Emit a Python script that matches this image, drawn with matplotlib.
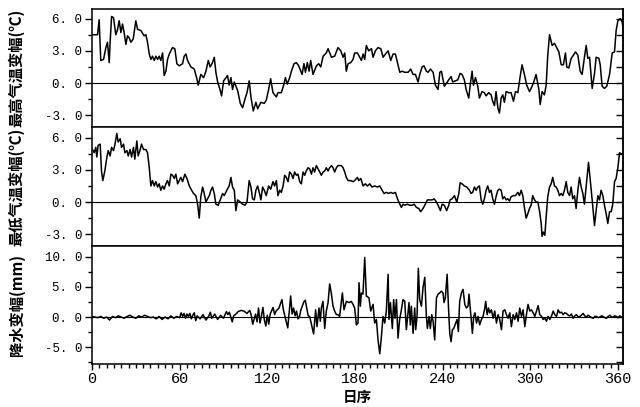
import matplotlib
matplotlib.use("Agg")
import matplotlib.pyplot as plt
import numpy as np
from matplotlib.ticker import MultipleLocator

# (day, value) pairs, one list per panel
TMAX = [
    (0.3, 4.5), (3.8, 4.5), (4.9, 5.9), (6.0, 2.1), (7.9, 2.2), (9.5, 3.3), (10.6, 3.8), (11.8, 1.9),
    (12.4, 3.8), (13.4, 6.2), (14.7, 6.1), (16.3, 4.5), (17.5, 5.0), (18.6, 5.8), (19.8, 4.7), (20.9, 5.5),
    (22.0, 4.7), (23.2, 3.6), (24.3, 4.4), (25.5, 4.2), (26.6, 3.8), (28.2, 4.1), (30.0, 5.8), (31.2, 5.0),
    (33.4, 4.9), (35.7, 4.4), (36.9, 4.5), (38.0, 3.8), (39.2, 2.7), (40.3, 2.2), (41.4, 2.5), (42.6, 2.1),
    (43.7, 2.5), (44.9, 2.2), (46.0, 2.5), (47.1, 2.1), (48.3, 2.8), (49.4, 0.7), (50.6, 1.1), (51.7, 2.2),
    (52.9, 2.7), (55.1, 3.3), (56.7, 3.2), (58.1, 1.8), (59.7, 1.6), (62.0, 1.8), (63.1, 2.5), (64.3, 2.7),
    (65.4, 2.1), (67.7, 1.5), (70.0, 1.3), (71.8, 0.4), (72.7, -0.2), (74.5, 0.8), (76.4, 0.5), (78.0, 1.1),
    (79.6, 2.1), (80.9, 1.5), (82.5, 1.9), (83.7, 2.4), (84.8, 1.0), (86.0, 0.1), (87.6, -0.6), (88.7, -1.2),
    (90.1, 0.2), (91.7, 0.5), (92.8, 0.7), (93.9, -0.2), (95.1, 0.5), (96.2, -0.6), (97.4, 0.1), (99.7, -0.7),
    (101.5, -1.9), (103.1, -2.3), (104.7, -1.5), (106.1, -0.9), (107.6, 0.2), (108.8, -1.3), (110.4, -2.6),
    (112.2, -1.8), (113.4, -2.4), (115.6, -1.8), (117.9, -1.9), (119.3, -1.6), (120.9, -0.6), (122.3, 0.4),
    (123.9, -0.9), (126.2, -1.3), (127.3, -0.9), (129.6, -0.9), (131.2, -0.2), (132.4, 0.5), (133.7, -0.1),
    (135.3, 0.5), (136.5, 1.1), (138.3, 1.8), (139.9, 1.9), (141.5, 1.6), (142.9, 1.1), (143.8, 0.8),
    (145.1, 1.8), (146.1, 1.0), (147.4, 1.9), (148.6, 1.1), (149.7, 2.1), (151.3, 0.8), (153.6, 1.6),
    (155.2, 1.8), (156.6, 1.5), (158.2, 2.5), (160.4, 2.8), (161.6, 3.2), (163.9, 2.4), (166.1, 2.5),
    (168.4, 3.3), (170.3, 3.0), (171.9, 2.4), (173.0, 2.8), (174.1, 1.1), (175.3, 1.8), (177.1, 1.9),
    (178.7, 2.2), (179.8, 2.8), (181.7, 2.8), (183.3, 2.4), (184.4, 2.1), (185.6, 2.7), (186.7, 2.2),
    (187.8, 3.5), (189.4, 3.0), (191.3, 3.2), (192.4, 2.4), (194.0, 3.0), (195.8, 3.3), (197.7, 3.2),
    (199.3, 2.4), (200.9, 2.7), (202.7, 3.0), (204.5, 2.1), (206.1, 2.7), (207.7, 2.7), (209.1, 1.9),
    (210.7, 1.0), (212.3, 1.1), (214.1, 1.0), (216.4, 1.0), (218.2, 1.3), (219.8, 0.8), (221.4, 0.8),
    (223.2, 0.1), (224.4, 0.8), (226.0, 1.5), (227.3, 1.6), (228.9, 1.1), (230.1, 1.0), (231.7, 1.3),
    (233.5, 1.0), (235.1, -0.2), (236.9, -0.6), (238.1, 1.0), (239.2, 1.1), (241.2, -0.3), (242.8, 0.0),
    (244.2, 0.3), (245.8, 0.6), (246.9, 0.1), (248.8, 0.2), (250.4, 0.3), (252.0, 0.9), (253.3, 0.8),
    (254.9, 0.3), (256.1, -0.6), (257.9, -1.4), (258.8, -0.3), (260.2, 1.1), (261.1, -0.2), (262.5, 0.5),
    (264.1, -0.3), (265.2, -1.4), (267.0, -0.8), (268.6, -0.9), (269.8, -1.2), (271.6, -0.9), (273.2, -1.1),
    (274.3, -1.7), (275.5, -2.1), (276.6, -0.8), (277.8, -2.3), (278.9, -2.8), (280.1, -1.4), (281.2, -1.1),
    (282.3, -1.8), (283.5, -0.8), (285.3, -0.9), (286.9, -0.9), (288.5, -1.7), (289.9, -0.8), (291.5, -0.9),
    (293.1, 0.6), (294.4, 1.7), (296.0, 0.8), (297.6, -0.2), (299.5, -0.8), (300.6, -0.5), (302.2, 0.0),
    (304.0, 0.8), (305.9, -0.6), (306.8, -2.0), (308.1, -0.8), (309.7, -1.1), (310.9, -0.2), (312.0, 2.6),
    (313.2, 4.5), (315.0, 3.5), (316.6, 3.7), (317.7, 3.4), (319.6, 2.9), (321.2, 1.7), (322.7, 1.7),
    (324.1, 2.8), (325.0, 1.5), (326.4, 1.4), (328.0, 2.3), (329.6, 2.6), (331.0, 2.9), (332.6, 2.6),
    (334.2, 1.1), (335.5, 0.8), (337.1, 2.4), (338.3, 3.5), (339.4, 2.3), (340.6, 2.4), (342.4, -0.5),
    (344.0, 0.9), (345.1, 2.4), (347.0, 2.3), (347.9, 1.7), (349.2, -0.3), (350.8, -0.5), (352.4, -0.3),
    (354.3, 0.8), (356.1, 2.8), (357.7, 2.9), (358.8, 4.9), (360.0, 5.8), (361.6, 6.0), (362.9, 5.7),
    (363.8, 4.9),
]

TMIN = [
    (0.3, 4.9), (1.5, 4.6), (2.6, 5.1), (3.3, 4.2), (4.2, 5.3), (5.6, 5.4), (6.5, 2.9), (7.4, 2.0),
    (8.8, 2.9), (10.2, 4.2), (11.1, 4.8), (12.4, 4.3), (13.4, 5.1), (14.7, 4.8), (15.6, 5.3), (17.0, 6.4),
    (17.9, 5.6), (19.3, 5.9), (20.2, 5.1), (21.6, 5.4), (22.5, 4.6), (23.9, 4.8), (24.8, 4.3), (26.1, 4.9),
    (27.1, 4.2), (28.4, 5.1), (29.3, 4.0), (30.7, 5.7), (31.6, 4.3), (33.0, 4.9), (33.9, 5.4), (35.3, 4.9),
    (36.9, 4.9), (38.0, 4.6), (39.2, 3.2), (40.3, 1.5), (41.4, 2.0), (42.6, 1.5), (43.7, 1.9), (44.9, 1.4),
    (46.0, 1.7), (47.1, 1.1), (48.3, 1.5), (49.4, 1.2), (50.6, 1.7), (51.7, 2.0), (52.9, 1.5), (54.0, 2.6),
    (55.1, 2.5), (56.3, 2.2), (57.4, 2.6), (58.6, 1.7), (59.7, 2.0), (60.8, 2.3), (62.0, 1.9), (63.6, 2.6),
    (65.0, 2.2), (66.6, 1.5), (68.2, 1.1), (69.5, 0.8), (71.1, 0.6), (72.3, -0.2), (73.4, -1.5), (74.5, 0.5),
    (75.7, 1.4), (76.8, 0.8), (78.0, 0.0), (79.1, 0.3), (80.3, 0.6), (81.4, 1.1), (82.5, 1.4), (83.7, 0.8),
    (84.8, -0.2), (86.4, -0.3), (87.8, 0.2), (89.4, 0.8), (90.5, 0.6), (92.3, 1.1), (93.9, 1.5), (95.1, 2.3),
    (96.2, 1.4), (97.4, 1.1), (98.5, -0.8), (99.7, 0.2), (101.5, 0.0), (103.1, -0.2), (104.7, -0.3),
    (106.1, 0.0), (107.6, 2.0), (108.8, 1.4), (109.9, 0.3), (111.1, 0.2), (112.2, 1.1), (113.4, 1.5),
    (114.5, 0.9), (115.6, 0.2), (116.8, 1.4), (117.9, 1.1), (119.3, 0.6), (120.9, 1.5), (122.3, 1.2),
    (123.9, 1.9), (125.0, 1.5), (126.2, 2.0), (127.3, 0.6), (128.5, 1.1), (129.6, 0.9), (130.8, 1.5),
    (131.9, 2.5), (133.0, 2.3), (134.2, 1.9), (135.3, 2.8), (136.5, 2.6), (137.6, 2.2), (138.7, 2.8),
    (139.9, 2.5), (141.0, 2.6), (142.2, 1.9), (143.3, 1.7), (144.5, 2.8), (145.6, 2.5), (146.7, 2.9),
    (147.9, 3.2), (149.0, 3.1), (150.2, 2.6), (151.3, 3.2), (152.4, 2.8), (153.6, 3.4), (154.7, 3.1),
    (155.9, 2.8), (157.0, 2.5), (158.2, 2.8), (159.3, 2.9), (160.4, 3.2), (161.6, 2.9), (162.7, 3.2),
    (163.9, 3.4), (165.0, 3.2), (166.1, 2.8), (167.3, 3.2), (168.4, 3.4), (170.7, 3.4), (171.9, 3.2),
    (173.0, 2.8), (174.1, 2.3), (175.3, 2.0), (177.1, 2.0), (178.7, 1.9), (179.8, 2.0), (181.7, 2.3),
    (182.6, 2.0), (184.0, 2.2), (185.6, 1.5), (187.1, 1.7), (188.5, 1.5), (190.1, 1.7), (191.7, 1.4),
    (193.5, 1.5), (195.4, 1.4), (197.0, 1.5), (198.6, 1.1), (199.9, 0.8), (201.5, 0.9), (203.1, 0.8),
    (204.5, 0.9), (206.1, 0.8), (207.7, 0.9), (209.1, 0.3), (210.7, -0.2), (211.8, -0.5), (212.9, -0.2),
    (214.1, -0.3), (215.9, -0.2), (217.5, -0.3), (219.1, -0.3), (220.5, -0.2), (222.1, -0.5), (223.7, -0.6),
    (225.0, -0.9), (226.6, -0.6), (227.8, -0.3), (229.6, 0.2), (231.2, 0.2), (232.8, 0.2), (234.2, 0.3),
    (235.8, 0.0), (236.9, -0.3), (238.5, -0.8), (239.7, -0.2), (241.2, -0.3), (242.8, -0.8), (244.2, -0.3),
    (245.1, 0.2), (246.5, 0.3), (248.1, 0.6), (249.7, 0.0), (251.1, 0.8), (252.0, 1.8), (253.3, 1.7),
    (254.9, 1.5), (256.5, 1.4), (258.4, 1.1), (259.5, 0.8), (260.6, 0.9), (261.8, 1.4), (262.9, 1.1),
    (264.1, 1.4), (265.2, 1.5), (266.4, 0.2), (267.5, -0.2), (268.6, 0.3), (269.8, 1.1), (270.9, 1.5),
    (272.1, 0.9), (273.2, 1.1), (274.3, 0.3), (275.5, -0.2), (276.6, 0.5), (277.8, 1.1), (278.9, 1.2),
    (280.1, 1.1), (281.2, 0.3), (282.3, 0.5), (283.5, 0.2), (284.6, 0.3), (285.8, 0.1), (286.9, 0.5),
    (288.5, 0.6), (289.9, 0.6), (291.5, 0.9), (292.6, 0.6), (293.8, 1.1), (294.9, 0.6), (296.0, -0.5),
    (297.2, -1.5), (298.3, -1.1), (299.5, -0.6), (300.6, -0.3), (301.7, 0.6), (302.9, 0.2), (304.0, 0.0),
    (305.2, 0.0), (306.3, -0.8), (307.5, -2.0), (308.1, -3.2), (309.0, -2.8), (310.0, -3.1), (310.9, -1.4),
    (312.0, 0.5), (313.2, 1.4), (314.3, 1.7), (315.4, 2.3), (316.6, 1.5), (317.7, 1.4), (318.9, 1.1),
    (320.0, 0.6), (321.2, 0.8), (322.3, 0.6), (323.4, 1.1), (324.6, 1.9), (325.7, 0.9), (326.9, 0.6),
    (328.0, 1.4), (329.1, 0.3), (330.3, 0.6), (331.4, -0.6), (332.6, 1.1), (333.7, 2.3), (334.9, 1.4),
    (336.0, 0.8), (337.1, -0.2), (338.3, 1.5), (339.9, 3.7), (341.0, 2.2), (342.4, 0.2), (344.0, -2.2),
    (345.1, -0.8), (346.3, 0.6), (347.4, 0.2), (348.5, 1.1), (349.7, 0.6), (350.8, -0.3), (352.0, -1.1),
    (353.1, -2.0), (354.3, -0.9), (355.4, -0.9), (356.5, -0.2), (357.7, 1.9), (358.8, 2.2), (360.0, 3.2),
    (361.1, 4.6), (362.2, 4.5), (363.4, 4.5), (364.5, 4.2),
]

PRECIP = [
    (0, 0.1), (2, 0.0), (4, -0.1), (6, 0.1), (8, -0.2), (10, 0.0), (12, -0.5), (14, 0.1), (16, -0.1),
    (18, 0.2), (20, 0.0), (22, -0.2), (24, 0.1), (26, 0.3), (28, 0.0), (30, -0.2), (32, 0.2), (34, 0.0),
    (36, 0.3), (38, 0.1), (40, -0.1), (42, 0.0), (44, -0.3), (46, 0.1), (48, -0.4), (50, 0.0), (52, -0.3),
    (54, 0.2), (56, -0.2), (58, 0.1), (60, -0.1), (61, 0.7), (62, 0.1), (63, 0.6), (64, -0.2), (65, 0.5),
    (66, 0.1), (67, 0.6), (68, -0.3), (69, 0.3), (70, 0.7), (71, -0.6), (72, 0.2), (74, -0.3), (76, 0.4),
    (78, -0.5), (80, 0.2), (81, 0.8), (82, -0.2), (84, 0.5), (86, -0.4), (88, 0.3), (90, -0.2), (92, 0.9),
    (93, 0.4), (94, 0.8), (96, -0.8), (97, 0.2), (99, 0.6), (100, 0.9), (102, 1.1), (104, 1.0), (106, 0.6),
    (108, 1.1), (109, 0.3), (110, -1.2), (112, 0.5), (113, -0.8), (114, 1.5), (115, -1.0), (116, 0.2),
    (117, 1.6), (118, -0.5), (119, -1.5), (120, 0.3), (121, -1.2), (122, 0.5), (124, 1.6), (125, 0.4),
    (126, 1.0), (128, 1.5), (130, 2.9), (131, 1.2), (132, 0.2), (133, -0.8), (134, -1.8), (135, 0.8),
    (136, 3.5), (137, 0.5), (138, 1.5), (139, 0.2), (140, 1.0), (141, -0.3), (142, 0.0), (143, 1.2),
    (145, 2.5), (146, 2.8), (147, 1.5), (148, 0.2), (149, 0.1), (150, -1.0), (151.7, -2.8), (153.1, 1.2),
    (154.0, -1.6), (155.4, 1.5), (156.3, -0.7), (157.0, 1.5), (158.1, 2.6), (159.3, -1.9), (160.4, 1.0),
    (161.6, 2.4), (162.7, 5.5), (163.8, 4.0), (165.0, 1.8), (166.1, 1.0), (167.3, 0.4), (168.4, 0.4),
    (169.5, 0.1), (171.4, 4.0), (172.5, 1.2), (174.1, 2.6), (175.9, 2.4), (177.5, 2.6), (178.7, 2.1),
    (179.8, 1.5), (181.0, -1.3), (182.1, -1.0), (182.8, 5.7), (183.7, 1.8), (184.4, 4.0), (185.5, 3.8),
    (186.7, 9.9), (187.8, 3.5), (189.6, 3.2), (190.8, 1.0), (192.4, 2.1), (193.5, -1.0), (194.7, -0.4),
    (195.8, -3.8), (197.0, -6.1), (198.1, -3.3), (199.2, 0.1), (200.4, -1.0), (201.5, 1.0), (202.7, 7.1),
    (203.3, -0.4), (204.3, 2.4), (205.6, -1.9), (206.5, 2.9), (207.4, -0.2), (208.4, 2.9), (209.5, -3.5),
    (210.6, -0.4), (211.8, 1.2), (212.9, 2.9), (214.1, 2.6), (215.2, -2.1), (216.1, 0.1), (217.0, 2.4),
    (217.9, -1.3), (218.6, 1.8), (219.8, -2.7), (220.9, 1.5), (221.6, -2.1), (222.5, 0.1), (223.4, 8.1),
    (224.3, 2.9), (225.5, 1.8), (226.6, 4.9), (227.8, 6.6), (228.9, 0.1), (229.6, -1.9), (230.7, 0.1),
    (231.6, -1.9), (232.6, 0.4), (233.5, -0.7), (234.6, -3.8), (235.8, 3.2), (236.9, 3.8), (238.0, 4.0),
    (239.2, 4.3), (240.3, 4.0), (241.0, 2.4), (241.9, 3.2), (243.1, 7.1), (244.0, 1.8), (244.9, -2.7),
    (245.8, -4.1), (246.7, -2.1), (247.6, -1.9), (248.5, -1.3), (249.9, -0.4), (250.8, -2.4), (251.7, 2.6),
    (252.9, 4.0), (254.0, 4.6), (255.2, 2.1), (256.3, 1.5), (257.4, 1.8), (258.1, 3.8), (259.0, 1.2),
    (260.4, -2.7), (261.3, 0.1), (262.2, 0.7), (263.2, -1.0), (264.3, 0.1), (265.4, -1.3), (266.6, -0.4),
    (267.7, 0.1), (268.9, 1.5), (269.5, 2.6), (270.5, 0.4), (271.4, 1.5), (272.3, 0.7), (273.4, 1.2),
    (274.6, -0.2), (275.7, 1.0), (276.9, -1.0), (278.0, 0.4), (279.1, -0.4), (280.3, -2.1), (281.4, 1.0),
    (282.6, 1.2), (283.7, 0.4), (284.8, -0.2), (286.0, 0.7), (287.1, -1.6), (288.3, 0.4), (289.4, -0.4),
    (290.6, 0.7), (291.7, -0.7), (292.8, 1.5), (294.0, 0.1), (295.1, 1.2), (296.3, -1.6), (297.4, 0.4),
    (298.5, 2.1), (299.7, 1.0), (300.8, 1.2), (302.0, 0.7), (303.1, 0.1), (304.3, 1.0), (305.4, 1.9),
    (306.5, 0.4), (307.7, 0.1), (308.8, -0.4), (310.0, -0.2), (311.1, -0.7), (312.2, 0.1), (313.4, -0.4),
    (314.5, 0.1), (315.7, 1.0), (316.8, 0.4), (318.0, 0.1), (319.1, 1.2), (320.2, 0.7), (321.4, 0.8),
    (322.5, 0.4), (323.6, 0.7), (324.8, 0.6), (326.0, 0.3), (327.1, 0.2), (328.2, 0.5), (329.4, -0.2),
    (330.5, 0.2), (331.6, 0.4), (332.8, 0.0), (333.9, 0.1), (335.0, 0.3), (336.2, 0.6), (337.3, 0.2),
    (338.5, 0.0), (339.6, 0.3), (340.8, 0.1), (342.0, -0.1), (343.1, -0.2), (344.2, 0.1), (345.3, 0.1),
    (346.5, -0.1), (347.6, 0.0), (348.8, 0.2), (349.9, 0.1), (351.0, -0.1), (352.2, -0.2), (353.3, 0.1),
    (354.5, 0.3), (355.6, 0.0), (356.8, 0.0), (357.9, 0.2), (359.0, 0.1), (360.2, -0.1), (361.3, 0.2),
    (362.4, 0.0), (363.6, 0.0),
]

YLABELS = ["最高气温变幅(℃)", "最低气温变幅(℃)", "降水变幅(mm)"]
YTICKS = [[-3.0, 0.0, 3.0, 6.0], [-3.0, 0.0, 3.0, 6.0], [-5.0, 0.0, 5.0, 10.0]]
XTICKS = [0, 60, 120, 180, 240, 300, 360]
XLABEL = "日序"

CJK = ["Noto Sans CJK SC", "DejaVu Sans"]
MONO = "Liberation Mono"


def fmt(v):
    s = f"{v:.1f}"
    return s.replace(".", ". ")


def main():
    fig = plt.figure(figsize=(6.4, 4.07), dpi=100)
    left, width = 92 / 640, 531 / 640
    rows = [(9, 127), (127, 246), (246, 364)]
    ylims = [(-4.1, 6.9), (-4.1, 7.0), (-7.8, 11.8)]
    minors = [1.5, 1.5, 2.5]
    series = [TMAX, TMIN, PRECIP]

    for i, (top, bot) in enumerate(rows):
        ax = fig.add_axes([left, 1 - bot / 407, width, (bot - top) / 407])
        arr = np.array(series[i])
        ax.plot(arr[:, 0], arr[:, 1], color="black", lw=1.1)
        ax.axhline(0, color="black", lw=0.8)
        ax.set_xlim(0, 363.5)
        ax.set_ylim(*ylims[i])
        for sp in ax.spines.values():
            sp.set_linewidth(1.1)

        ax.set_yticks(YTICKS[i])
        ax.set_yticklabels([fmt(v) for v in YTICKS[i]], fontfamily=MONO, fontsize=9)
        ax.yaxis.set_minor_locator(MultipleLocator(minors[i]))
        ax.tick_params(axis="y", which="major", direction="out", length=5, width=1, pad=2)
        ax.tick_params(axis="y", which="minor", direction="out", length=3, width=1)

        sec = ax.secondary_yaxis("right")
        sec.set_yticks(YTICKS[i])
        sec.yaxis.set_minor_locator(MultipleLocator(minors[i]))
        sec.tick_params(axis="y", which="major", direction="in", length=5, width=1, labelright=False)
        sec.tick_params(axis="y", which="minor", direction="in", length=5, width=1)
        sec.spines["right"].set_linewidth(1.1)

        if i < 2:
            ax.set_xticks([])
        else:
            ax.set_xticks(XTICKS)
            ax.set_xticklabels([str(t) for t in XTICKS], fontfamily=MONO, fontsize=11)
            ax.xaxis.set_minor_locator(MultipleLocator(5))
            ax.tick_params(axis="x", which="major", direction="out", length=4, width=1, pad=1.5)
            ax.tick_params(axis="x", which="minor", direction="out", length=3, width=1)

        yc = 1 - (top + bot) / 2 / 407
        fig.text(0.026, yc, YLABELS[i], rotation=90, ha="center", va="center",
                 fontsize=11, fontweight="bold", family=CJK)

    fig.text((92 + 623) / 2 / 640, 1 - 397 / 407, XLABEL, ha="center", va="center",
             fontsize=10.5, fontweight="bold", family=CJK)

    fig.savefig("out.png", dpi=100)
    plt.close(fig)


if __name__ == "__main__":
    main()
